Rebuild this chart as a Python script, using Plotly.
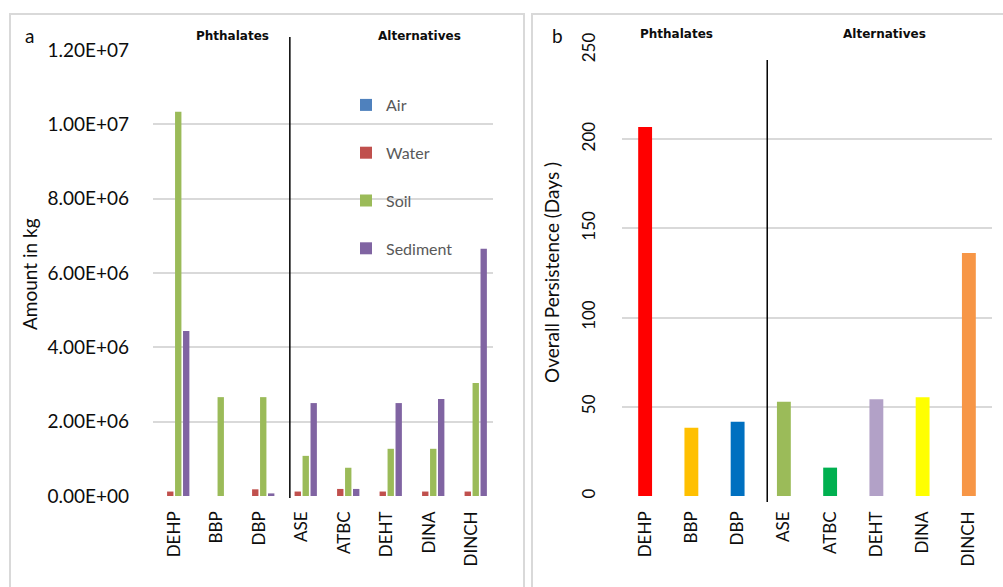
import plotly.graph_objects as go

W, H = 1003, 587

# Compounds shown in both panels
compounds = ["DEHP", "BBP", "DBP", "ASE", "ATBC", "DEHT", "DINA", "DINCH"]

# Panel a: mass distribution (kg) per environmental compartment
air = [0.0, 0.0, 0.0, 0.0, 0.0, 0.0, 0.0, 0.0]
water = [1.2e5, 0.0, 1.8e5, 1.2e5, 1.9e5, 1.2e5, 1.2e5, 1.2e5]
soil = [1.034e7, 2.66e6, 2.66e6, 1.08e6, 7.6e5, 1.27e6, 1.27e6, 3.04e6]
sediment = [4.44e6, 0.0, 7.0e4, 2.5e6, 1.9e5, 2.5e6, 2.61e6, 6.65e6]

amount_ticks = [0, 2e6, 4e6, 6e6, 8e6, 1e7, 1.2e7]
amount_tick_labels = ["0.00E+00", "2.00E+06", "4.00E+06", "6.00E+06",
                      "8.00E+06", "1.00E+07", "1.20E+07"]

# Panel b: overall persistence (days)
persistence = [206.8, 38.3, 41.6, 52.9, 15.9, 54.2, 55.3, 136.2]
days_ticks = [0, 50, 100, 150, 200, 250]

compartment_colors = {"Air": "#4F81BD", "Water": "#C0504D",
                      "Soil": "#9BBB59", "Sediment": "#8064A2"}
compound_colors = ["#FF0000", "#FFC000", "#0070C0", "#9BBB59",
                   "#00B050", "#B2A1C7", "#FFFF00", "#F79646"]

FONT = "Lato, 'Open Sans', sans-serif"
GRID = "#D9D9D9"
TXT = "#0D0D0D"


def px(x):
    return x / W


def py(y):
    return 1 - y / H


fig = go.Figure()

for name, vals in [("Air", air), ("Water", water),
                   ("Soil", soil), ("Sediment", sediment)]:
    fig.add_trace(go.Bar(
        x=compounds, y=vals, name=name,
        marker=dict(color=compartment_colors[name], line=dict(width=0)),
        legendgroup=name, xaxis="x", yaxis="y",
    ))

fig.add_trace(go.Bar(
    x=compounds, y=persistence, width=0.3, showlegend=False,
    marker=dict(color=compound_colors, line=dict(width=0)),
    xaxis="x2", yaxis="y2",
))

y_dom = [py(496), py(50)]

fig.update_layout(
    width=W, height=H,
    margin=dict(l=0, r=0, t=0, b=0),
    paper_bgcolor="white", plot_bgcolor="white",
    font=dict(family=FONT, color=TXT),
    barmode="group", bargap=0.25, bargroupgap=0.2,
    xaxis=dict(domain=[px(153), px(493)], anchor="y", type="category",
               range=[-0.5, 7.5], showgrid=False, zeroline=False,
               showline=False, ticks="", tickangle=-90,
               tickfont=dict(size=17, color=TXT), ticklabelstandoff=11,
               automargin=False),
    yaxis=dict(domain=y_dom, anchor="x", range=[0, 1.2e7],
               tickvals=amount_ticks, ticktext=amount_tick_labels,
               showgrid=True, gridcolor=GRID, gridwidth=1.5,
               zeroline=False, showline=False, ticks="",
               tickfont=dict(size=19, color=TXT), ticklabelstandoff=23,
               automargin=False),
    xaxis2=dict(domain=[px(622), px(992)], anchor="y2", type="category",
                range=[-0.5, 7.5], showgrid=False, zeroline=False,
                showline=False, ticks="", tickangle=-90,
                tickfont=dict(size=17, color=TXT), ticklabelstandoff=11,
                automargin=False),
    yaxis2=dict(domain=y_dom, anchor="x2", range=[0, 250],
                tickvals=days_ticks, showgrid=True, gridcolor=GRID,
                gridwidth=1.5, zeroline=False, showline=False, ticks="",
                tickangle=-90, tickfont=dict(size=17, color=TXT),
                ticklabelstandoff=23, automargin=False),
    legend=dict(x=px(346), y=py(88), xanchor="left", yanchor="top",
                bgcolor="rgba(0,0,0,0)", tracegroupgap=24,
                itemwidth=30,
                font=dict(size=16, color="#595959", family=FONT)),
)

# Panel frames
fig.add_shape(type="rect", xref="paper", yref="paper",
              x0=px(10), x1=px(524), y0=py(600), y1=py(14),
              line=dict(color="#D9D9D9", width=2), layer="below")
fig.add_shape(type="rect", xref="paper", yref="paper",
              x0=px(532), x1=px(1010), y0=py(600), y1=py(14),
              line=dict(color="#D9D9D9", width=2), layer="below")

# Divider between phthalates and alternatives
fig.add_shape(type="line", xref="x", yref="paper", x0=2.72, x1=2.72,
              y0=py(498), y1=py(37), line=dict(color="#000000", width=1.5))
fig.add_shape(type="line", xref="x2", yref="paper", x0=2.64, x1=2.64,
              y0=py(502), y1=py(60), line=dict(color="#000000", width=1.5))

annotations = [
    dict(text="a", x=px(29), y=py(35), font=dict(size=19)),
    dict(text="b", x=px(557), y=py(35), font=dict(size=19)),
    dict(text="<b>Phthalates</b>", x=px(232), y=py(36),
         font=dict(size=12, family="DejaVu Sans")),
    dict(text="<b>Alternatives</b>", x=px(419), y=py(36),
         font=dict(size=12, family="DejaVu Sans")),
    dict(text="<b>Phthalates</b>", x=px(676), y=py(34),
         font=dict(size=12, family="DejaVu Sans")),
    dict(text="<b>Alternatives</b>", x=px(884), y=py(34),
         font=dict(size=12, family="DejaVu Sans")),
    dict(text="Amount in kg", x=px(30), y=py(274), textangle=-90,
         font=dict(size=19)),
    dict(text="Overall Persistence (Days )", x=px(551), y=py(273),
         textangle=-90, font=dict(size=19)),
]
for a in annotations:
    fig.add_annotation(xref="paper", yref="paper", showarrow=False,
                       xanchor="center", yanchor="middle", **a)

fig.write_html("out.html")
